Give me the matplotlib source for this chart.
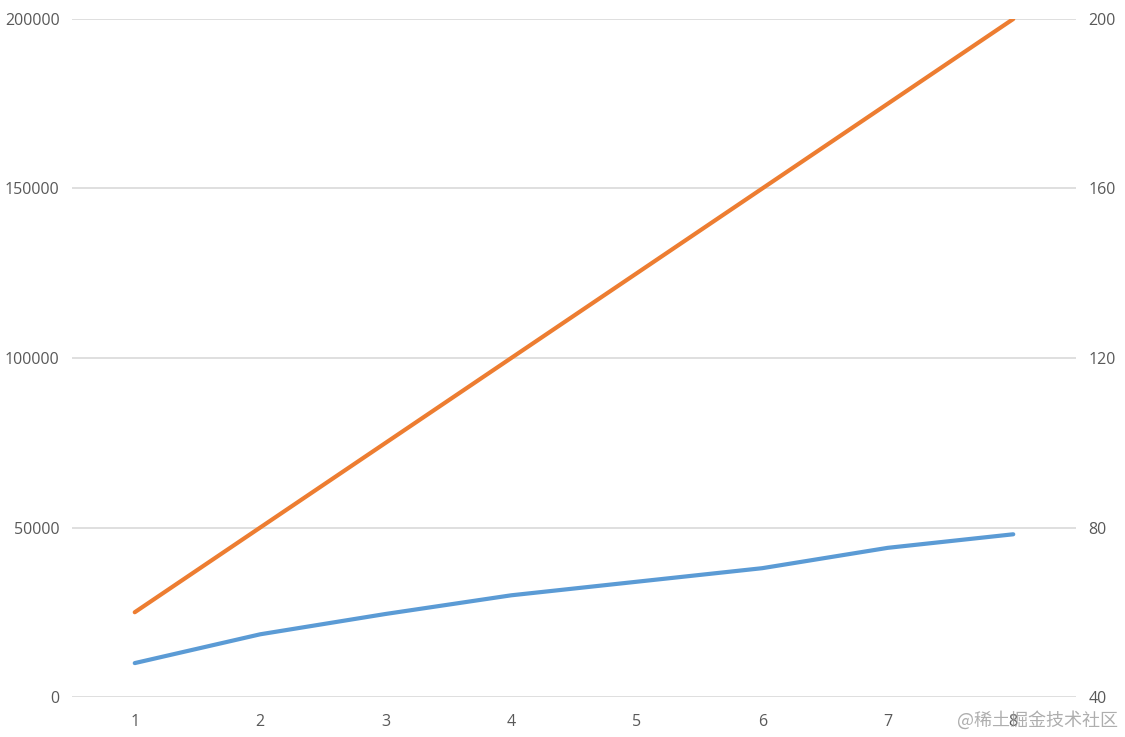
import matplotlib.pyplot as plt
from matplotlib.ticker import FixedLocator

# categories and series values
categories = [1, 2, 3, 4, 5, 6, 7, 8]
blue_values = [10000, 18500, 24500, 30000, 34000, 38000, 44000, 48000]   # left axis
orange_values = [60, 80, 100, 120, 140, 160, 180, 200]                   # right axis

left_ticks = [0, 50000, 100000, 150000, 200000]
right_ticks = [40, 80, 120, 160, 200]

grid_color = '#D9D9D9'
text_color = '#595959'
blue = '#5B9BD5'
orange = '#ED7D31'

plt.rcParams['font.family'] = ['Open Sans', 'DejaVu Sans']

fig = plt.figure(figsize=(11.25, 7.37), dpi=100)
ax = fig.add_axes([72 / 1125, 1 - 697 / 737, (1076 - 72) / 1125, (697 - 19) / 737])
ax2 = ax.twinx()

ax.plot(categories, blue_values, color=blue, lw=3.0, solid_capstyle='round', zorder=3)
ax2.plot(categories, orange_values, color=orange, lw=3.0, solid_capstyle='round', zorder=3)

ax.set_xlim(0.5, 8.5)
ax.set_ylim(0, 200000)
ax2.set_ylim(40, 200)

ax.xaxis.set_major_locator(FixedLocator(categories))
ax.yaxis.set_major_locator(FixedLocator(left_ticks))
ax2.yaxis.set_major_locator(FixedLocator(right_ticks))
ax.set_xticklabels([str(c) for c in categories])
ax.set_yticklabels([str(t) for t in left_ticks])
ax2.set_yticklabels([str(t) for t in right_ticks])

ax.grid(axis='y', color=grid_color, lw=1.2, zorder=0)
ax.set_axisbelow(True)

for a in (ax, ax2):
    for s in a.spines.values():
        s.set_visible(False)
    a.tick_params(length=0, labelsize=11.5, labelcolor=text_color)
ax.tick_params(axis='y', pad=9)
ax2.tick_params(axis='y', pad=9)
ax.tick_params(axis='x', pad=12)

# watermark
fig.text(1118 / 1125, 1 - 720 / 737, '@稀土掘金技术社区', ha='right', va='center',
         fontsize=13, color='#9a9a9a', alpha=0.8,
         family=['Noto Sans CJK SC', 'DejaVu Sans'])

fig.savefig('out.png', dpi=100, facecolor='white')
